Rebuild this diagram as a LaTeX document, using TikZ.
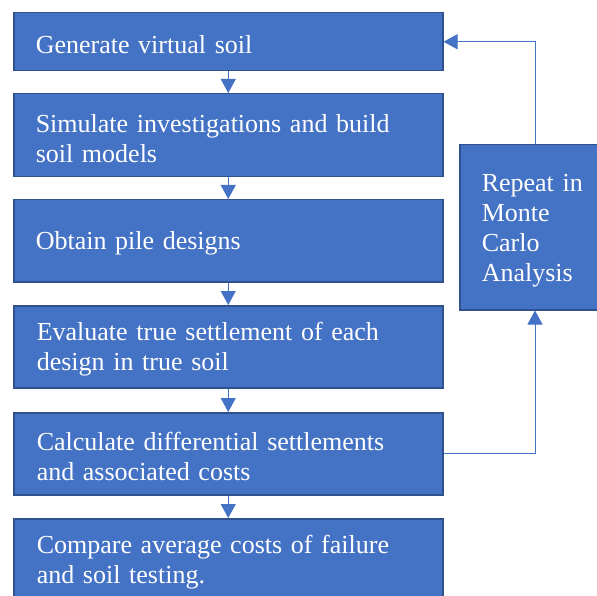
\documentclass[tikz,border=0pt]{standalone}
\usepackage{fontspec}
\setmainfont{Liberation Serif}
\usetikzlibrary{arrows.meta,calc}
\definecolor{boxfill}{HTML}{4472C4}
\definecolor{boxline}{HTML}{2F528F}
\definecolor{conn}{HTML}{4472C4}
\begin{document}
\begin{tikzpicture}[x=1pt,y=1pt,
  stepbox/.style={draw=boxline,line width=1.5pt,fill=boxfill,text=white,
    minimum width=429pt,minimum height=82pt,text width=385pt,inner xsep=22pt,
    align=left,font=\fontsize{26}{30}\selectfont,anchor=north west,
    execute at begin node={\rule{0pt}{24pt}}},
  sidebox/.style={draw=boxline,line width=1.5pt,fill=boxfill,text=white,
    minimum width=160pt,minimum height=165pt,text width=116pt,inner xsep=22pt,
    align=left,font=\fontsize{26}{30}\selectfont,anchor=north west,
    execute at begin node={\rule{0pt}{24pt}}},
  flow/.style={draw=conn,line width=1pt,-{Triangle[width=15pt,length=14pt]}}]
\useasboundingbox (0,0) rectangle (597,-596);
\begin{scope}
\clip (0,0) rectangle (597,-596);
\node[stepbox,minimum height=58pt] (b1) at (13,-12) {Generate virtual soil};
\node[stepbox,minimum height=83pt] (b2) at (13,-93) {Simulate investigations and build\\soil models};
\node[stepbox] (b3) at (13,-199) {Obtain pile designs};
\node[stepbox,text width=383pt,inner xsep=23pt] (b4) at (13,-305) {Evaluate true settlement of each\\design in true soil};
\node[stepbox,text width=383pt,inner xsep=23pt] (b5) at (13,-412) {Calculate differential settlements\\and associated costs};
\node[stepbox,text width=383pt,inner xsep=23pt] (b6) at (13,-518) {Compare average costs of failure\\and soil testing.};
\node[sidebox] (rb) at (459,-144) {Repeat in\\Monte\\Carlo\\Analysis};
\coordinate (xl) at (535,0);
\draw[flow] (b1.south) -- (b2.north);
\draw[flow] (b2.south) -- (b3.north);
\draw[flow] (b3.south) -- (b4.north);
\draw[flow] (b4.south) -- (b5.north);
\draw[flow] (b5.south) -- (b6.north);
\draw[flow] (rb.north -| xl) |- (b1.east);
\draw[flow] (b5.east) -| (rb.south -| xl);
\end{scope}
\end{tikzpicture}
\end{document}
